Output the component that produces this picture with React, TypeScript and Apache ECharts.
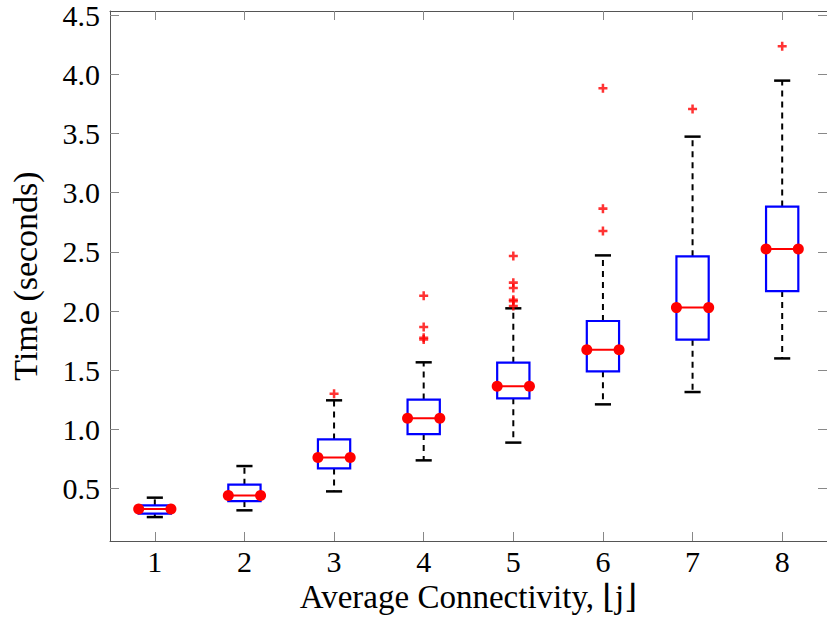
import React, { useEffect, useRef } from "react";
import * as echarts from "echarts";

const categories = [1, 2, 3, 4, 5, 6, 7, 8];
const whiskerLow = [0.26, 0.317, 0.477, 0.739, 0.889, 1.212, 1.316, 1.6];
const q1 = [0.289, 0.395, 0.671, 0.961, 1.263, 1.491, 1.758, 2.169];
const median = [0.328, 0.443, 0.764, 1.094, 1.364, 1.674, 2.029, 2.524];
const q3 = [0.359, 0.534, 0.916, 1.252, 1.564, 1.916, 2.462, 2.882];
const whiskerHigh = [0.424, 0.691, 1.246, 1.567, 2.023, 2.47, 3.473, 3.946];
const outlierX = [3, 4, 4, 4, 4, 5, 5, 5, 5, 5, 5, 6, 6, 6, 7, 8];
const outlierY = [1.302, 2.13, 1.865, 1.775, 1.76, 2.465, 2.24, 2.194, 2.096, 2.082, 2.042, 3.881, 2.865, 2.676, 3.706, 4.236];
const yTicks = [0.5, 1.0, 1.5, 2.0, 2.5, 3.0, 3.5, 4.0, 4.5];
const xTicks = [1, 2, 3, 4, 5, 6, 7, 8];

const FONT = "'Liberation Serif', 'DejaVu Serif', serif";
const BOX_HALF = 0.18;
const CAP_HALF = 0.09;

export default function App() {
  const ref = useRef<HTMLDivElement>(null);
  useEffect(() => {
    if (!ref.current) return;
    const chart = echarts.init(ref.current, null, { renderer: "svg" });
    const boxData = categories.map((c, i) => [c, whiskerLow[i], q1[i], median[i], q3[i], whiskerHigh[i]]);
    const outData = outlierX.map((x, i) => [x, outlierY[i]]);
    const axisLineStyle = { color: "#555", width: 1 };
    const tickStyle = { color: "#888", width: 1 };
    chart.setOption({
      animation: false,
      backgroundColor: "#fff",
      grid: { left: 110, right: -4, top: 11, bottom: 80 },
      xAxis: [
        {
          type: "value",
          min: 0.5,
          max: 8.5,
          position: "bottom",
          axisLine: { show: true, lineStyle: axisLineStyle },
          axisTick: { show: true, inside: true, length: 9, customValues: xTicks, lineStyle: tickStyle },
          axisLabel: {
            customValues: xTicks,
            formatter: (v: number) => String(v),
            fontFamily: FONT,
            fontSize: 30,
            color: "#000",
            margin: 5,
          },
          splitLine: { show: false },
          name: "Average Connectivity, \u230Aj\u230B",
          nameLocation: "middle",
          nameGap: 37,
          nameTextStyle: { fontFamily: FONT, fontSize: 33, color: "#000" },
        },
        {
          type: "value",
          min: 0.5,
          max: 8.5,
          position: "top",
          axisLine: { show: true, lineStyle: axisLineStyle },
          axisTick: { show: true, inside: true, length: 9, customValues: xTicks, lineStyle: tickStyle },
          axisLabel: { show: false },
          splitLine: { show: false },
        },
      ],
      yAxis: [
        {
          type: "value",
          min: 0.058,
          max: 4.534,
          position: "left",
          axisLine: { show: true, lineStyle: axisLineStyle },
          axisTick: { show: true, inside: true, length: 9, customValues: yTicks, lineStyle: tickStyle },
          axisLabel: {
            customValues: yTicks,
            formatter: (v: number) => v.toFixed(1),
            fontFamily: FONT,
            fontSize: 30,
            color: "#000",
            margin: 10,
          },
          splitLine: { show: false },
          name: "Time (seconds)",
          nameLocation: "middle",
          nameGap: 68,
          nameTextStyle: { fontFamily: FONT, fontSize: 34, color: "#000" },
        },
        {
          type: "value",
          min: 0.058,
          max: 4.534,
          position: "right",
          axisLine: { show: true, lineStyle: axisLineStyle },
          axisTick: { show: true, inside: true, length: 9, customValues: yTicks, lineStyle: tickStyle },
          axisLabel: { show: false },
          splitLine: { show: false },
        },
      ],
      series: [
        {
          type: "custom",
          xAxisIndex: 0,
          yAxisIndex: 0,
          data: boxData,
          renderItem: (params: any, api: any) => {
            const x = api.value(0);
            const wl = api.value(1);
            const b1 = api.value(2);
            const md = api.value(3);
            const b3 = api.value(4);
            const wh = api.value(5);
            const pc = api.coord([x, md]);
            const left = api.coord([x - BOX_HALF, md])[0];
            const right = api.coord([x + BOX_HALF, md])[0];
            const capL = api.coord([x - CAP_HALF, md])[0];
            const capR = api.coord([x + CAP_HALF, md])[0];
            const yWl = api.coord([x, wl])[1];
            const yQ1 = api.coord([x, b1])[1];
            const yMd = pc[1];
            const yQ3 = api.coord([x, b3])[1];
            const yWh = api.coord([x, wh])[1];
            const cx = pc[0];
            const dash = { stroke: "#000", lineWidth: 2, lineDash: [6, 5], fill: "none" };
            const cap = { stroke: "#000", lineWidth: 2.5 };
            return {
              type: "group",
              children: [
                { type: "line", shape: { x1: cx, y1: yQ3, x2: cx, y2: yWh }, style: dash },
                { type: "line", shape: { x1: cx, y1: yQ1, x2: cx, y2: yWl }, style: dash },
                { type: "line", shape: { x1: capL, y1: yWh, x2: capR, y2: yWh }, style: cap },
                { type: "line", shape: { x1: capL, y1: yWl, x2: capR, y2: yWl }, style: cap },
                {
                  type: "rect",
                  shape: { x: left, y: yQ3, width: right - left, height: yQ1 - yQ3 },
                  style: { stroke: "#0000ff", lineWidth: 2.2, fill: "none" },
                },
                { type: "line", shape: { x1: left, y1: yMd, x2: right, y2: yMd }, style: { stroke: "#ff0000", lineWidth: 2 } },
                { type: "circle", shape: { cx: left, cy: yMd, r: 5.5 }, style: { fill: "#ff0000" } },
                { type: "circle", shape: { cx: right, cy: yMd, r: 5.5 }, style: { fill: "#ff0000" } },
              ],
            };
          },
        },
        {
          type: "scatter",
          xAxisIndex: 0,
          yAxisIndex: 0,
          data: outData,
          symbol: "path://M3.6,0H6.4V3.6H10V6.4H6.4V10H3.6V6.4H0V3.6H3.6Z",
          symbolSize: 9,
          itemStyle: { color: "#ff0000" },
        },
      ],
    });
    return () => chart.dispose();
  }, []);
  return (
    <div
      ref={ref}
      style={{ position: "fixed", left: 0, top: 0, width: 827, height: 621, background: "#fff" }}
    />
  );
}
